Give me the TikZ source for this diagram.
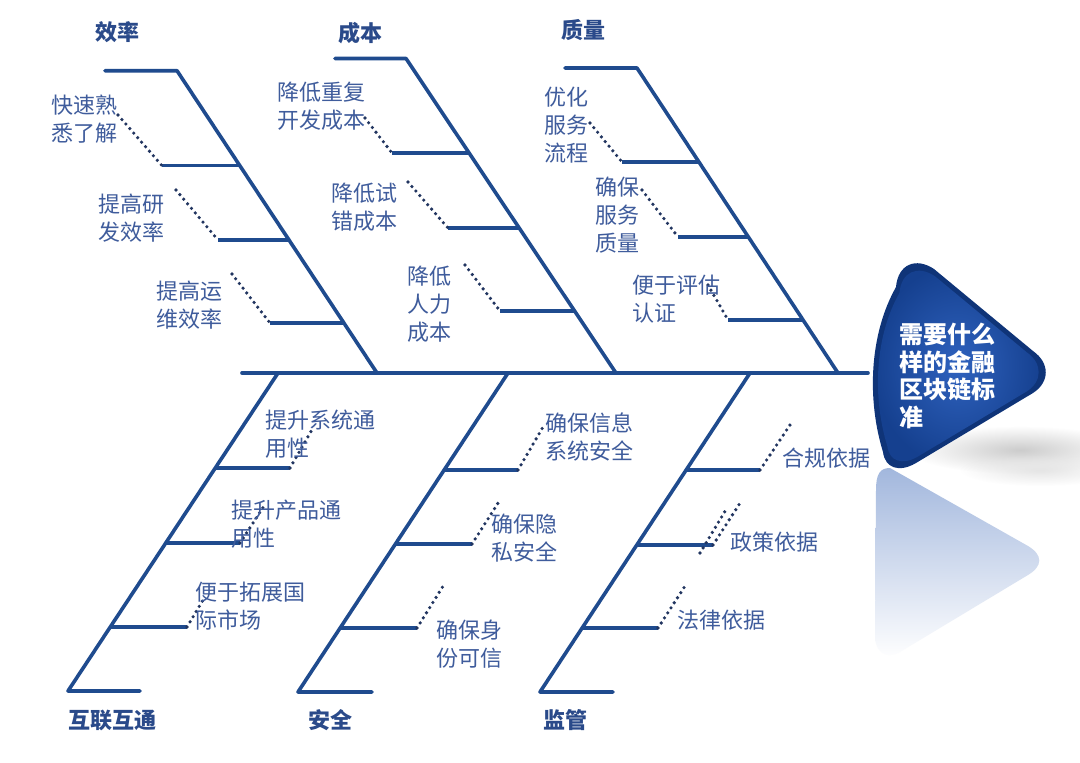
\documentclass[tikz,border=0pt]{standalone}
\usepackage{fontspec}
\newfontfamily\cjk{Noto Sans CJK SC}
\usetikzlibrary{calc,fadings}
\definecolor{bone}{HTML}{1F4B8E}
\definecolor{lblc}{HTML}{3F5C9C}
\definecolor{ttlc}{HTML}{2A4A8A}
\definecolor{dotc}{HTML}{223560}
\definecolor{headA}{HTML}{2F62BE}
\definecolor{headB}{HTML}{15408F}
\definecolor{headC}{HTML}{0F3478}
\definecolor{reflc}{HTML}{A2B7DD}
\tikzfading[name=fuzzyblob, inner color=transparent!0, outer color=transparent!100]
\tikzset{
 bonel/.style={draw=bone, line width=3.6pt, line cap=round, line join=round},
 subl/.style={draw=bone, line width=3.2pt},
 dotl/.style={draw=dotc, line width=3.6pt, line cap=round, dash pattern=on 0pt off 6pt},
 lab/.style={text=lblc, font=\cjk\fontsize{22}{28}\selectfont, align=left, inner sep=0pt},
 ttlnode/.style={text=ttlc, font=\cjk\bfseries\fontsize{22}{28}\selectfont, inner sep=0pt},
 headtext/.style={text=white, font=\cjk\bfseries\fontsize{24}{27.5}\selectfont, align=left, inner sep=0pt},
}
\begin{document}
\begin{tikzpicture}[x=1pt,y=-1pt]
\useasboundingbox (0,0) rectangle (1080,763);
\fill[white] (0,0) rectangle (1080,763);

% ---------- coordinates ----------
\coordinate (sp0) at (242,373); \coordinate (sp1) at (868,373);
% efficiency
\coordinate (eT0) at (105,70.7); \coordinate (eT1) at (177,70.7); \coordinate (eJ) at (377,373);
\coordinate (e1a) at (162,165.7); \coordinate (e1b) at (240,165.7);
\coordinate (e2a) at (218,240); \coordinate (e2b) at (289,240);
\coordinate (e3a) at (270,323); \coordinate (e3b) at (344,323);
\coordinate (de1) at (118,115); \coordinate (de2) at (176,190); \coordinate (de3) at (232,274);
% cost
\coordinate (cT0) at (335,58.5); \coordinate (cT1) at (406,58.5); \coordinate (cJ) at (616,373);
\coordinate (c1a) at (392,153); \coordinate (c1b) at (469,153);
\coordinate (c2a) at (448,228); \coordinate (c2b) at (519,228);
\coordinate (c3a) at (500,311); \coordinate (c3b) at (574.5,311);
\coordinate (dc1) at (365,118); \coordinate (dc2) at (408,182); \coordinate (dc3) at (465,265);
% quality
\coordinate (qT0) at (565,68); \coordinate (qT1) at (637,68); \coordinate (qJ) at (838,373);
\coordinate (q1a) at (622,162); \coordinate (q1b) at (699,162);
\coordinate (q2a) at (678,237); \coordinate (q2b) at (748,237);
\coordinate (q3a) at (728,320); \coordinate (q3b) at (803,320);
\coordinate (dq1) at (590,123); \coordinate (dq2) at (642,190); \coordinate (dq3) at (708,285);
% interconnection
\coordinate (iJ) at (278,373); \coordinate (iB1) at (68,691); \coordinate (iB0) at (140,691);
\coordinate (i1a) at (215,468); \coordinate (i1b) at (290,468);
\coordinate (i2a) at (166,543); \coordinate (i2b) at (240,543);
\coordinate (i3a) at (110,627); \coordinate (i3b) at (187,627);
\coordinate (di1) at (313,428); \coordinate (di2) at (266,503); \coordinate (di3) at (203,600);
% security
\coordinate (sJ) at (508,373); \coordinate (sB1) at (298,692); \coordinate (sB0) at (372,692);
\coordinate (s1a) at (444,470); \coordinate (s1b) at (518,470);
\coordinate (s2a) at (395.5,544); \coordinate (s2b) at (472,544);
\coordinate (s3a) at (340,628); \coordinate (s3b) at (417,628);
\coordinate (ds1) at (543,427); \coordinate (ds2) at (500,500); \coordinate (ds3) at (445,583);
% regulation
\coordinate (rJ) at (750,373); \coordinate (rB1) at (540,692); \coordinate (rB0) at (613,692);
\coordinate (r1a) at (686,470); \coordinate (r1b) at (760,470);
\coordinate (r2a) at (637,545); \coordinate (r2b) at (713,545);
\coordinate (r3a) at (582,628); \coordinate (r3b) at (658,628);
\coordinate (dr1) at (790,425); \coordinate (dr2) at (742,500);
\coordinate (dr2p) at (700,553); \coordinate (dr2q) at (727,508);
\coordinate (dr3) at (687,583);

% ---------- head shadow and reflection ----------
\fill[black!20, path fading=fuzzyblob] (1020,450) ellipse [x radius=110pt, y radius=24pt];
\fill[black!10, path fading=fuzzyblob] (1040,470) ellipse [x radius=80pt, y radius=16pt];
\shade[top color=reflc, bottom color=white, middle color=reflc!50]
  (890,468) -- (1028,546) .. controls (1043,555) and (1043,566) .. (1028,575)
  -- (900,652) .. controls (886,660) and (875,652) .. (875,636)
  -- (876,490) .. controls (876,474) and (880,468) .. (890,468) -- cycle;

% ---------- head ----------
\fill[headC]
  (896,287) .. controls (898,264) and (916,257) .. (934,269)
  -- (1033,351) .. controls (1050,363) and (1050,382) .. (1033,393)
  -- (916,463) .. controls (899,473) and (885,468) .. (883,452)
  .. controls (867,400) and (869,335) .. (896,287) -- cycle;
\begin{scope}[shift={(945,370)}, scale=0.93, shift={(-945,-370)}]
\shade[inner color=headA, outer color=headB]
  (896,287) .. controls (898,264) and (916,257) .. (934,269)
  -- (1033,351) .. controls (1050,363) and (1050,382) .. (1033,393)
  -- (916,463) .. controls (899,473) and (885,468) .. (883,452)
  .. controls (867,400) and (869,335) .. (896,287) -- cycle;
\end{scope}
\node[headtext, anchor=west] (head) at (899,376) {需要什么\\样的金融\\区块链标\\准};

% ---------- spine ----------
\draw[bonel] (sp0) -- (sp1);

% ---------- main bones ----------
\draw[bonel] (eT0) -- (eT1) -- (eJ);
\draw[bonel] (cT0) -- (cT1) -- (cJ);
\draw[bonel] (qT0) -- (qT1) -- (qJ);
\draw[bonel] (iJ) -- (iB1) -- (iB0);
\draw[bonel] (sJ) -- (sB1) -- (sB0);
\draw[bonel] (rJ) -- (rB1) -- (rB0);

% ---------- sub bones ----------
\foreach \p in {e1,e2,e3,c1,c2,c3,q1,q2,q3,i1,i2,i3,s1,s2,s3,r1,r2,r3}
  \draw[subl] (\p a) -- (\p b);

% ---------- dotted leaders ----------
\draw[dotl] (de1) -- (e1a);
\draw[dotl] (de2) -- (e2a);
\draw[dotl] (de3) -- (e3a);
\draw[dotl] (dc1) -- (c1a);
\draw[dotl] (dc2) -- (c2a);
\draw[dotl] (dc3) -- (c3a);
\draw[dotl] (dq1) -- (q1a);
\draw[dotl] (dq2) -- (q2a);
\draw[dotl] (dq3) -- (q3a);
\draw[dotl] (i1b) -- (di1);
\draw[dotl] (i2b) -- (di2);
\draw[dotl] (i3b) -- (di3);
\draw[dotl] (s1b) -- (ds1);
\draw[dotl] (s2b) -- (ds2);
\draw[dotl] (s3b) -- (ds3);
\draw[dotl] (r1b) -- (dr1);
\draw[dotl] (r2b) -- (dr2);
\draw[dotl] (dr2p) -- (dr2q);
\draw[dotl] (r3b) -- (dr3);

% ---------- titles ----------
\node[ttlnode] (tE) at (117,32) {效率};
\node[ttlnode] (tC) at (360,33) {成本};
\node[ttlnode] (tQ) at (583,30) {质量};
\node[ttlnode] (tI) at (112,720) {互联互通};
\node[ttlnode] (tS) at (330,720) {安全};
\node[ttlnode] (tR) at (565,720) {监管};

% ---------- labels ----------
\node[lab] (le1) at (84,119) {快速熟\\悉了解};
\node[lab] (le2) at (131,218) {提高研\\发效率};
\node[lab] (le3) at (189,305) {提高运\\维效率};
\node[lab] (lc1) at (321,106) {降低重复\\开发成本};
\node[lab] (lc2) at (364,207) {降低试\\错成本};
\node[lab] (lc3) at (429,304) {降低\\人力\\成本};
\node[lab] (lq1) at (566,125) {优化\\服务\\流程};
\node[lab] (lq2) at (617,215) {确保\\服务\\质量};
\node[lab] (lq3) at (676,299) {便于评估\\认证};
\node[lab] (li1) at (320,434) {提升系统通\\用性};
\node[lab] (li2) at (286,524) {提升产品通\\用性};
\node[lab] (li3) at (250,606) {便于拓展国\\际市场};
\node[lab] (ls1) at (589,437) {确保信息\\系统安全};
\node[lab] (ls2) at (524,538) {确保隐\\私安全};
\node[lab] (ls3) at (469,644) {确保身\\份可信};
\node[lab] (lr1) at (826,458) {合规依据};
\node[lab] (lr2) at (774,542) {政策依据};
\node[lab] (lr3) at (721,620) {法律依据};
\end{tikzpicture}
\end{document}
